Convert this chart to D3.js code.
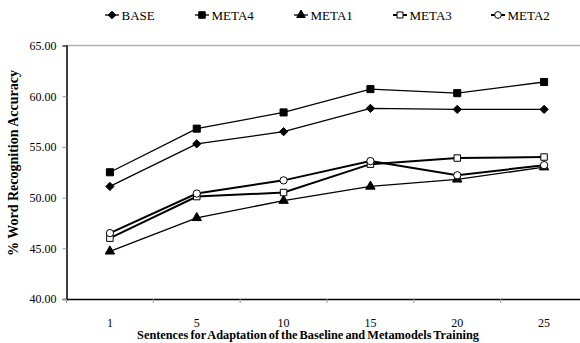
<!DOCTYPE html>
<html><head><meta charset="utf-8">
<script src="https://cdn.jsdelivr.net/npm/d3@7"></script>
<style>body{margin:0;background:#fff}svg{display:block}text{font-family:"Liberation Serif","Times New Roman",serif;fill:#000}</style>
</head><body><svg id="c" width="580" height="343"></svg>
<script>
const categories = ["1","5","10","15","20","25"];
const seriesNames = ["BASE","META4","META1","META3","META2"];
const BASE  = [51.1, 55.3, 56.5, 58.8, 58.7, 58.7];
const META4 = [52.5, 56.8, 58.4, 60.7, 60.3, 61.4];
const META1 = [44.7, 48.0, 49.7, 51.1, 51.8, 53.0];
const META3 = [46.0, 50.1, 50.5, 53.3, 53.9, 54.0];
const META2 = [46.5, 50.4, 51.7, 53.6, 52.2, 53.2];
const yTicks = [40, 45, 50, 55, 60, 65];

const values = {BASE, META4, META1, META3, META2};
const diamond = { draw(ctx, size) { const r = Math.sqrt(size / 2); ctx.moveTo(0, -r); ctx.lineTo(r, 0); ctx.lineTo(0, r); ctx.lineTo(-r, 0); ctx.closePath(); } };
const style = {
  BASE:  {shape: diamond, size: 34, fill: "#000", w: 1.3},
  META4: {shape: d3.symbolSquare, size: 50, fill: "#000", w: 1.3},
  META1: {shape: d3.symbolTriangle, size: 38, fill: "#000", w: 1.3},
  META3: {shape: d3.symbolSquare, size: 42, fill: "#fff", w: 2},
  META2: {shape: d3.symbolCircle, size: 42, fill: "#fff", w: 2}
};

const svg = d3.select("#c");
const L = 66.5, R = 587.5, T = 45.5, B = 299;
const x = d3.scaleBand().domain(categories).range([L, R]);
const y = d3.scaleLinear().domain([40, 65]).range([B, T]);

// top gridline
svg.append("line").attr("x1", L).attr("x2", 580).attr("y1", y(65)).attr("y2", y(65))
  .attr("stroke", "#b0b0b0").attr("stroke-width", 1.5);

// y axis
const ya = svg.append("g").attr("transform", `translate(${L},0)`)
  .call(d3.axisLeft(y).tickValues(yTicks).tickFormat(d3.format(".2f")).tickSize(4).tickPadding(6));
ya.attr("font-family", null);
ya.select(".domain").attr("stroke", "#000").attr("stroke-width", 1.5);
ya.selectAll(".tick line").attr("stroke", "#999");
ya.selectAll("text").style("font-size", "12px");

// x axis
const xa = svg.append("g").attr("transform", `translate(0,${B})`)
  .call(d3.axisBottom(x).tickSize(0).tickPadding(19));
xa.attr("font-family", null);
xa.select(".domain").attr("stroke", "#000").attr("stroke-width", 1.5);
xa.selectAll("text").style("font-size", "12px");
const bounds = categories.map(c => x(c)).concat([x(categories[5]) + x.bandwidth()]);
svg.append("g").selectAll("line").data(bounds).join("line")
  .attr("x1", d => d).attr("x2", d => d).attr("y1", B).attr("y2", B + 4)
  .attr("stroke", "#999");

// series
const line = d3.line().x((d, i) => x(categories[i]) + x.bandwidth() / 2).y(d => y(d));
seriesNames.forEach(n => {
  const s = style[n];
  svg.append("path").datum(values[n]).attr("d", line)
    .attr("fill", "none").attr("stroke", "#000").attr("stroke-width", s.w);
});
seriesNames.forEach(n => {
  const s = style[n];
  svg.append("g").selectAll("path").data(values[n]).join("path")
    .attr("transform", (d, i) => `translate(${x(categories[i]) + x.bandwidth() / 2},${y(d)})`)
    .attr("d", d3.symbol().type(s.shape).size(s.size))
    .attr("fill", s.fill).attr("stroke", "#000").attr("stroke-width", 1);
});

// legend
const legX = [112, 202, 301, 400, 498];
const lg = svg.append("g");
seriesNames.forEach((n, i) => {
  const s = style[n];
  const g = lg.append("g").attr("transform", `translate(${legX[i]},15)`);
  g.append("line").attr("x1", -7).attr("x2", 7).attr("stroke", "#000").attr("stroke-width", s.w);
  g.append("path").attr("d", d3.symbol().type(s.shape).size(s.size * 0.85))
    .attr("fill", s.fill).attr("stroke", "#000").attr("stroke-width", 1);
  g.append("text").attr("x", 9.5).attr("y", 4.5).style("font-size", "13px").text(n);
});

// titles
svg.append("text").attr("x", 308).attr("y", 339).attr("text-anchor", "middle")
  .style("font-size", "12.3px").style("font-weight", "bold").style("word-spacing", "-1px")
  .text("Sentences for Adaptation of the Baseline and Metamodels Training");
svg.append("text").attr("transform", "translate(18,163) rotate(-90)").attr("text-anchor", "middle")
  .style("font-size", "14px").style("font-weight", "bold")
  .text("% Word Recognition Accuracy");
</script></body></html>
